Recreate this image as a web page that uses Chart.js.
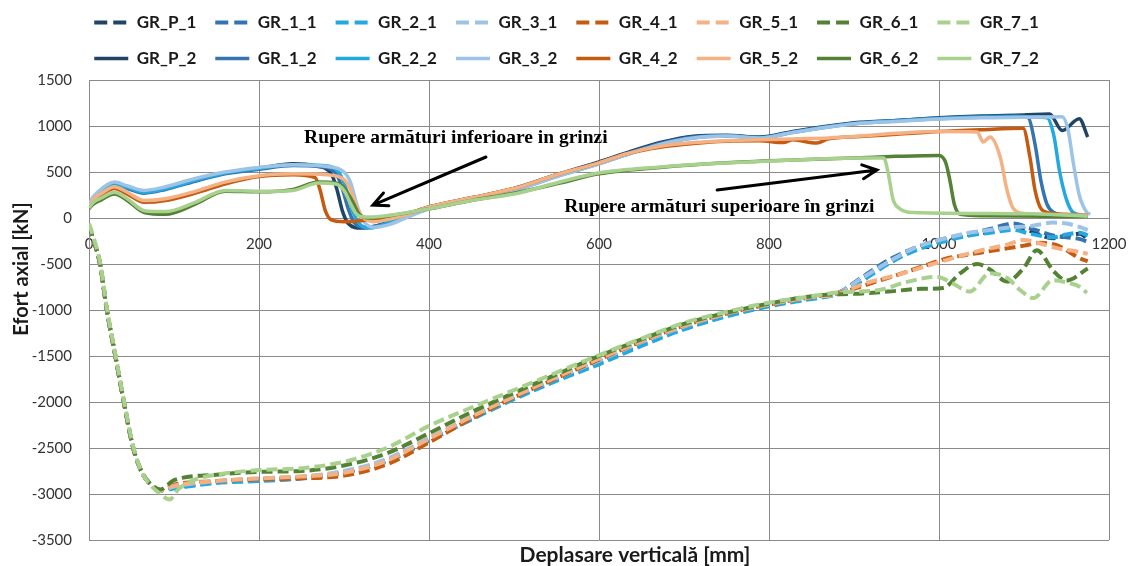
<!DOCTYPE html>
<html>
<head>
<meta charset="utf-8">
<script src="https://cdn.jsdelivr.net/npm/chart.js@4.4.0/dist/chart.umd.min.js"></script>
<style>
  html, body { margin: 0; padding: 0; background: #ffffff; }
  canvas { display: block; }
</style>
</head>
<body>
<canvas id="chart" width="1128" height="566"></canvas>
<script>
// ---- Axis ticks --------------------------------------------------------
const xTicks = [0, 200, 400, 600, 800, 1000, 1200];
const yTicks = [1500, 1000, 500, 0, -500, -1000, -1500, -2000, -2500, -3000, -3500];

// ---- Series names (legend order) ---------------------------------------
const seriesNames = ['GR_P_1', 'GR_1_1', 'GR_2_1', 'GR_3_1', 'GR_4_1', 'GR_5_1', 'GR_6_1', 'GR_7_1',
                     'GR_P_2', 'GR_1_2', 'GR_2_2', 'GR_3_2', 'GR_4_2', 'GR_5_2', 'GR_6_2', 'GR_7_2'];

// ---- Axial force, first set (compression), displacement [mm] / force [kN]
const x_GR_P_1 = [0,5,13,21,31,41,52,62,72,84,100,150,200,250,300,350,400,450,500,550,600,650,700,750,800,850,880,910,940,970,1000,1030,1060,1087,1107,1134,1150,1166,1175];
const y_GR_P_1 = [-80,-230,-500,-1000,-1500,-2000,-2500,-2760,-2890,-2960,-2930,-2870,-2850,-2830,-2770,-2640,-2420,-2180,-1960,-1760,-1570,-1370,-1200,-1060,-950,-870,-820,-660,-470,-340,-250,-190,-150,-90,-140,-220,-190,-170,-230];

const x_GR_1_1 = [0,5,13,21,31,41,52,62,72,84,100,150,200,250,300,350,400,450,500,550,600,650,700,750,800,850,880,910,940,970,1000,1030,1060,1087,1107,1134,1150,1166,1175];
const y_GR_1_1 = [-80,-230,-500,-1000,-1500,-2000,-2500,-2760,-2890,-2960,-2930,-2870,-2840,-2820,-2760,-2630,-2400,-2170,-1950,-1750,-1560,-1360,-1190,-1050,-950,-870,-820,-640,-460,-330,-240,-180,-120,-60,-110,-190,-210,-230,-260];

const x_GR_2_1 = [0,5,13,21,31,41,52,62,72,84,100,150,200,250,300,350,400,450,500,550,600,650,700,750,800,850,880,910,940,970,1000,1030,1060,1087,1107,1134,1150,1166,1175];
const y_GR_2_1 = [-80,-230,-500,-1000,-1500,-2000,-2500,-2760,-2890,-2960,-2940,-2880,-2860,-2830,-2770,-2650,-2420,-2190,-1970,-1770,-1590,-1390,-1210,-1070,-960,-880,-830,-680,-500,-360,-270,-200,-160,-130,-170,-210,-180,-160,-190];

const x_GR_3_1 = [0,5,13,21,31,41,52,62,72,84,100,150,200,250,300,350,400,450,500,550,600,650,700,750,800,850,880,910,940,970,1000,1030,1060,1087,1107,1134,1150,1166,1175];
const y_GR_3_1 = [-80,-230,-500,-1000,-1500,-2000,-2500,-2760,-2890,-2960,-2920,-2860,-2830,-2810,-2750,-2620,-2390,-2160,-1940,-1740,-1550,-1350,-1180,-1040,-940,-860,-820,-650,-480,-330,-240,-170,-130,-100,-90,-50,-60,-100,-130];

const x_GR_4_1 = [0,5,13,21,31,41,52,62,72,84,100,150,200,250,300,350,400,450,500,550,600,650,700,750,800,850,880,910,940,970,1009,1033,1060,1080,1100,1119,1140,1155,1166,1175];
const y_GR_4_1 = [-80,-230,-500,-1000,-1500,-2000,-2500,-2760,-2890,-2960,-2900,-2860,-2840,-2830,-2800,-2680,-2440,-2180,-1950,-1740,-1540,-1340,-1170,-1040,-940,-860,-820,-740,-650,-560,-440,-400,-360,-330,-300,-270,-300,-380,-440,-470];

const x_GR_5_1 = [0,5,13,21,31,41,52,62,72,84,100,150,200,250,300,350,400,450,500,550,600,650,700,750,800,850,880,910,954,1000,1050,1080,1099,1120,1140,1166,1175];
const y_GR_5_1 = [-80,-230,-500,-1000,-1500,-2000,-2500,-2760,-2890,-2960,-2910,-2860,-2830,-2810,-2770,-2640,-2400,-2160,-1940,-1730,-1530,-1340,-1170,-1040,-940,-860,-830,-720,-610,-480,-350,-290,-240,-280,-330,-370,-390];

const x_GR_6_1 = [0,5,13,21,31,41,52,62,72,84,100,150,200,250,300,350,400,450,500,550,600,650,700,750,800,850,880,910,940,980,1005,1025,1045,1060,1080,1100,1115,1135,1150,1175];
const y_GR_6_1 = [-80,-230,-500,-1000,-1500,-2000,-2500,-2760,-2890,-2950,-2850,-2790,-2760,-2750,-2690,-2560,-2340,-2110,-1900,-1700,-1500,-1320,-1150,-1030,-930,-850,-830,-820,-800,-770,-760,-600,-500,-560,-690,-540,-350,-580,-680,-550];

const x_GR_7_1 = [0,5,13,21,31,41,52,62,72,84,95,105,120,150,200,250,300,350,400,450,500,550,600,650,700,750,800,850,880,931,960,998,1016,1036,1060,1080,1095,1111,1134,1150,1166,1174];
const y_GR_7_1 = [-60,-200,-480,-980,-1480,-1980,-2480,-2760,-2900,-3000,-3060,-2950,-2860,-2790,-2740,-2720,-2650,-2500,-2260,-2060,-1870,-1680,-1490,-1310,-1140,-1020,-920,-850,-810,-780,-700,-640,-710,-800,-600,-650,-780,-870,-675,-700,-750,-815];

// ---- Axial force, second set --------------------------------------------
const x_GR_P_2 = [0,5,15,30,45,65,90,125,160,200,240,265,285,292,298,305,320,340,370,400,450,500,550,600,633,672,711,750,789,828,870,907,950,1000,1050,1100,1130,1145,1165,1175];
const y_GR_P_2 = [120,200,290,370,330,280,320,410,490,540,590,570,480,300,80,-60,-110,-80,20,120,220,320,470,610,710,820,890,900,880,940,1000,1040,1060,1090,1110,1120,1130,950,1080,880];

const x_GR_1_2 = [0,5,15,30,45,65,90,125,160,200,240,270,290,298,305,312,325,345,370,400,450,500,550,600,633,672,711,750,789,828,870,907,950,1000,1050,1090,1105,1113,1120,1127,1135,1150,1175];
const y_GR_1_2 = [130,210,290,360,320,270,310,400,480,530,570,560,490,320,100,-50,-100,-70,20,110,210,310,460,600,700,810,880,895,875,935,995,1035,1060,1085,1100,1110,1090,800,400,150,60,30,20];

const x_GR_2_2 = [0,5,15,30,45,65,90,125,160,200,240,275,295,303,310,318,330,345,370,400,450,500,550,600,633,672,711,750,789,828,870,907,950,1000,1050,1100,1127,1135,1142,1150,1158,1175];
const y_GR_2_2 = [140,220,300,370,330,280,320,410,490,540,580,570,480,300,80,-60,-110,-80,10,100,200,300,450,590,690,800,870,890,870,930,990,1030,1055,1080,1095,1100,1090,900,500,200,60,25];

const x_GR_3_2 = [0,5,15,30,45,65,90,125,160,200,240,280,300,308,315,322,335,350,375,400,450,500,550,600,633,672,711,750,789,828,870,907,950,1000,1050,1100,1145,1152,1158,1165,1174,1178];
const y_GR_3_2 = [150,230,320,390,350,300,340,430,500,550,580,560,500,380,150,-20,-100,-80,10,100,200,300,450,590,690,800,870,890,870,930,990,1030,1050,1075,1090,1095,1100,950,600,250,60,40];

const x_GR_4_2 = [0,5,15,30,45,65,90,125,160,200,240,266,272,278,285,300,320,345,375,400,450,500,550,600,633,672,711,750,789,817,828,856,870,907,950,1000,1050,1099,1107,1113,1121,1135,1175];
const y_GR_4_2 = [110,180,250,320,260,170,190,270,370,450,470,440,300,80,-20,-40,-30,0,50,120,220,320,470,600,700,770,810,835,840,820,850,815,860,885,910,940,960,975,660,300,90,50,30];

const x_GR_5_2 = [0,5,15,30,45,65,90,125,160,200,240,280,300,308,315,322,335,350,375,400,450,500,550,600,633,672,711,750,789,828,870,907,950,1000,1045,1052,1060,1072,1080,1087,1100,1175];
const y_GR_5_2 = [120,200,270,340,280,190,210,290,390,460,480,470,420,300,120,10,-40,-20,40,120,220,320,470,600,700,780,820,840,850,860,870,890,920,940,935,826,880,663,304,109,50,30];

const x_GR_6_2 = [0,5,15,30,45,65,90,125,160,200,240,270,290,300,310,318,330,350,400,450,500,554,600,672,750,828,907,950,1000,1008,1013,1018,1025,1050,1175];
const y_GR_6_2 = [100,150,200,260,190,60,40,150,290,285,310,390,380,330,180,40,0,20,100,190,270,380,480,550,600,630,655,670,680,600,400,150,40,25,15];

const x_GR_7_2 = [0,5,15,30,45,65,90,125,160,200,240,270,290,300,308,315,325,345,400,450,500,554,599,672,750,828,907,935,940,946,954,970,1050,1110,1175];
const y_GR_7_2 = [110,170,220,280,210,80,70,170,300,290,300,380,370,300,150,40,10,20,100,190,260,391,489,554,598,630,652,652,500,200,100,60,50,45,20];

// ---- Annotation texts ---------------------------------------------------
const noteLower = 'Rupere armături inferioare in grinzi';
const noteUpper = 'Rupere armături superioare în grinzi';
const xTitle = 'Deplasare verticală [mm]';
const yTitle = 'Efort axial [kN]';

// ---- Styling -------------------------------------------------------------
const palette = {
  P: '#1F4466', '1': '#3474B0', '2': '#23A8DF', '3': '#9DC3E6',
  '4': '#C55A11', '5': '#F4B183', '6': '#548235', '7': '#A9D18E'
};

const seriesX = {
  GR_P_1: x_GR_P_1, GR_1_1: x_GR_1_1, GR_2_1: x_GR_2_1, GR_3_1: x_GR_3_1,
  GR_4_1: x_GR_4_1, GR_5_1: x_GR_5_1, GR_6_1: x_GR_6_1, GR_7_1: x_GR_7_1,
  GR_P_2: x_GR_P_2, GR_1_2: x_GR_1_2, GR_2_2: x_GR_2_2, GR_3_2: x_GR_3_2,
  GR_4_2: x_GR_4_2, GR_5_2: x_GR_5_2, GR_6_2: x_GR_6_2, GR_7_2: x_GR_7_2
};
const seriesY = {
  GR_P_1: y_GR_P_1, GR_1_1: y_GR_1_1, GR_2_1: y_GR_2_1, GR_3_1: y_GR_3_1,
  GR_4_1: y_GR_4_1, GR_5_1: y_GR_5_1, GR_6_1: y_GR_6_1, GR_7_1: y_GR_7_1,
  GR_P_2: y_GR_P_2, GR_1_2: y_GR_1_2, GR_2_2: y_GR_2_2, GR_3_2: y_GR_3_2,
  GR_4_2: y_GR_4_2, GR_5_2: y_GR_5_2, GR_6_2: y_GR_6_2, GR_7_2: y_GR_7_2
};

const datasets = seriesNames.map((name, i) => {
  const key = name.split('_')[1];
  const dashed = name.endsWith('_1');
  const xs = seriesX[name], ys = seriesY[name];
  return {
    label: name,
    data: xs.map((x, k) => ({ x: x, y: ys[k] })),
    borderColor: palette[key],
    backgroundColor: palette[key],
    borderWidth: dashed ? 4 : 3.5,
    borderDash: dashed ? [11, 5] : [],
    borderCapStyle: 'butt',
    borderJoinStyle: 'round',
    pointRadius: 0,
    pointHoverRadius: 0,
    cubicInterpolationMode: 'monotone',
    fill: false,
    order: -i
  };
});

const gridColor = '#8a8a8a';
const tickColor = '#333333';

// Arrow with an open head
function drawArrow(ctx, x0, y0, x1, y1) {
  const ang = Math.atan2(y1 - y0, x1 - x0);
  const head = 16, spread = 0.45;
  ctx.beginPath();
  ctx.moveTo(x0, y0);
  ctx.lineTo(x1, y1);
  ctx.moveTo(x1 - head * Math.cos(ang - spread), y1 - head * Math.sin(ang - spread));
  ctx.lineTo(x1, y1);
  ctx.lineTo(x1 - head * Math.cos(ang + spread), y1 - head * Math.sin(ang + spread));
  ctx.stroke();
}

// Lift the legend block a little above its computed slot
const legendShift = {
  id: 'legendShift',
  afterLayout(chart) {
    const lg = chart.legend;
    if (lg) { lg.top -= 3; lg.bottom -= 3; }
  }
};

const notesPlugin = {
  id: 'notes',
  afterDatasetsDraw(chart) {
    const { ctx, chartArea } = chart;
    const sx = chart.scales.x, sy = chart.scales.y;
    ctx.save();
    ctx.fillStyle = '#000';
    ctx.strokeStyle = '#000';
    ctx.lineWidth = 3;
    ctx.lineCap = 'round';
    ctx.lineJoin = 'miter';
    ctx.font = 'bold 19.5px "Liberation Serif", "Times New Roman", serif';
    ctx.textBaseline = 'middle';
    ctx.textAlign = 'left';
    ctx.fillText(noteLower, sx.getPixelForValue(253), sy.getPixelForValue(870));
    ctx.fillText(noteUpper, sx.getPixelForValue(559), sy.getPixelForValue(120));
    drawArrow(ctx, sx.getPixelForValue(467), sy.getPixelForValue(663), sx.getPixelForValue(334), sy.getPixelForValue(141));
    drawArrow(ctx, sx.getPixelForValue(739), sy.getPixelForValue(304), sx.getPixelForValue(927), sy.getPixelForValue(522));

    // axis titles
    ctx.fillStyle = '#1a1a1a';
    ctx.textAlign = 'center';
    ctx.font = 'bold 21px Lato, "Open Sans", sans-serif';
    ctx.fillText(xTitle, (chartArea.left + chartArea.right) / 2 + 36, chartArea.bottom + 15);
    ctx.font = 'bold 20px Lato, "Open Sans", sans-serif';
    ctx.translate(22, (chartArea.top + chartArea.bottom) / 2 - 41);
    ctx.rotate(-Math.PI / 2);
    ctx.fillText(yTitle, 0, 0);
    ctx.restore();
  }
};

new Chart(document.getElementById('chart'), {
  type: 'line',
  data: { datasets: datasets },
  plugins: [legendShift, notesPlugin],
  options: {
    responsive: false,
    animation: false,
    events: [],
    layout: { padding: { left: 24, right: 19, top: -2, bottom: 26 } },
    plugins: {
      tooltip: { enabled: false },
      legend: {
        position: 'top',
        maxWidth: 1040,
        labels: {
          usePointStyle: true,
          pointStyle: 'line',
          pointStyleWidth: 34,
          padding: 19,
          color: '#1a1a1a',
          font: { family: 'Lato', weight: 'bold', size: 17 },
          sort: (a, b) => a.datasetIndex - b.datasetIndex,
          generateLabels: (chart) => {
            const items = Chart.defaults.plugins.legend.labels.generateLabels(chart);
            items.forEach(it => {
              const ds = chart.data.datasets[it.datasetIndex];
              it.lineDash = ds.borderDash.length ? [13, 6] : [];
              it.lineWidth = ds.borderWidth;
              it.strokeStyle = ds.borderColor;
              it.lineCap = 'butt';
            });
            return items;
          }
        }
      }
    },
    scales: {
      x: {
        type: 'linear',
        position: { y: 0 },
        min: xTicks[0],
        max: xTicks[xTicks.length - 1],
        afterBuildTicks: (scale) => { scale.ticks = xTicks.map(v => ({ value: v })); },
        afterFit: (scale) => { scale.height = 0; scale.paddingLeft = 0; scale.paddingRight = 0; },
        grid: { color: gridColor, lineWidth: 1, drawTicks: false },
        border: { display: false },
        ticks: { color: tickColor, padding: 17, maxRotation: 0, font: { family: 'Lato', size: 15 },
                 callback: (v) => String(v) }
      },
      y: {
        type: 'linear',
        min: yTicks[yTicks.length - 1],
        max: yTicks[0],
        afterBuildTicks: (scale) => { scale.ticks = yTicks.slice().reverse().map(v => ({ value: v })); },
        afterFit: (scale) => { scale.width = 65; },
        grid: { color: gridColor, lineWidth: 1, drawTicks: false },
        border: { color: gridColor, width: 1 },
        ticks: { color: tickColor, padding: 17, font: { family: 'Lato', size: 15 },
                 callback: (v) => String(v) }
      }
    }
  }
});
</script>
</body>
</html>
